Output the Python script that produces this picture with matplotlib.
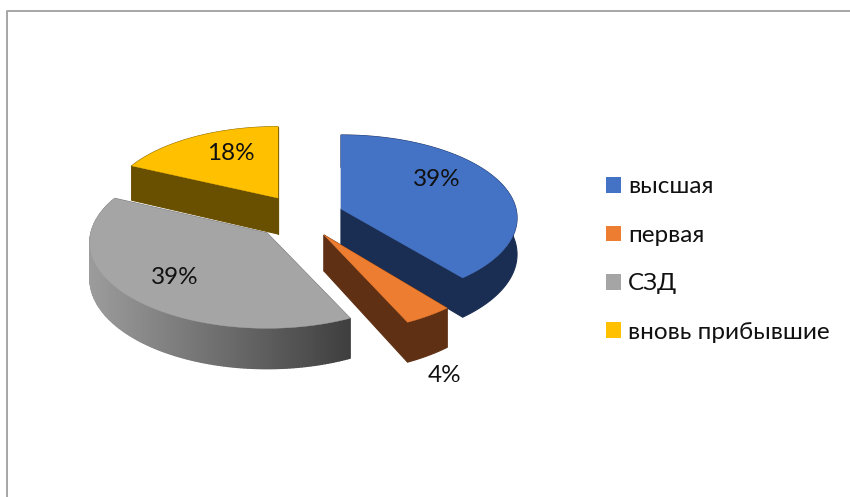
import numpy as np
import matplotlib as mpl
mpl.use("Agg")
import matplotlib.pyplot as plt
from matplotlib.patches import Polygon, Patch

plt.rcParams['font.family'] = ['Lato', 'Open Sans', 'DejaVu Sans']

categories = ['высшая', 'первая', 'СЗД', 'вновь прибывшие']
shares = [39, 4, 39, 18]
top_colors = ['#4472c4', '#ed7d31', '#a5a5a5', '#ffc000']
side_colors = ['#1a2d52', '#5f3013', None, '#694f00']

# apex of each exploded slice and where its label sits, in pixels
apexes = [(341, 209), (324, 235), (267, 233), (278, 198)]
radii = [175, 177, 176, 169]
radii_y = [82, 87, 85, 79]
label_pos = [(437, 180), (445, 376), (175, 278), (231, 154)]
PERSP = 0.108
DEPTH = 36.0


def project(apex, rx, ry, theta):
    # theta clockwise from the back of the pie, with a little perspective
    xx = np.sin(theta)
    yy = np.cos(theta)
    w = 1 + PERSP * yy
    return apex[0] + rx * xx / w, apex[1] - ry * yy / w, DEPTH / w


def gray_shade(x, x0, x1):
    f = np.clip((x - x0) / (x1 - x0), 0, 1)
    return tuple((0x9c + (0x3f - 0x9c) * f) / 255 for _ in range(3))


fig = plt.figure(figsize=(8.5, 4.97), dpi=100)
ax = fig.add_axes([0, 0, 1, 1])
ax.set_xlim(0, 850)
ax.set_ylim(497, 0)
ax.axis('off')

# chart frame
ax.plot([7.5, 7.5, 850], [497, 10.5, 10.5], color='#a6a6a6', lw=1.4)

fractions = np.array(shares) / sum(shares)
edges = np.concatenate([[0], np.cumsum(fractions)]) * 2 * np.pi

for i in [3, 2, 0, 1]:
    apex = apexes[i]
    t = np.linspace(edges[i], edges[i + 1], 160)
    xs, ys, ds = project(apex, radii[i], radii_y[i], t)
    base = side_colors[i] or '#6b6b6b'

    # radial faces first, outer wall after, top last
    for x, y, d in [(xs[0], ys[0], ds[0]), (xs[-1], ys[-1], ds[-1])]:
        ax.add_patch(Polygon([apex, (x, y), (x, y + d), (apex[0], apex[1] + DEPTH)],
                             closed=True, fc=base, ec=base, lw=0.8))
    if side_colors[i] is None:
        for k in range(len(t) - 1):
            c = gray_shade((xs[k] + xs[k + 1]) / 2, xs.min(), xs.max())
            quad = [(xs[k], ys[k]), (xs[k + 1], ys[k + 1]),
                    (xs[k + 1], ys[k + 1] + ds[k + 1]), (xs[k], ys[k] + ds[k])]
            ax.add_patch(Polygon(quad, closed=True, fc=c, ec=c, lw=1.0))
    else:
        wall = list(zip(xs, ys)) + list(zip(xs[::-1], (ys + ds)[::-1]))
        ax.add_patch(Polygon(wall, closed=True, fc=base, ec=base, lw=0.8))
    ax.add_patch(Polygon([apex] + list(zip(xs, ys)), closed=True,
                         fc=top_colors[i], ec=top_colors[i], lw=0.3))

for frac, pos in zip(fractions, label_pos):
    ax.text(pos[0], pos[1], f'{frac * 100:.0f}%', ha='center', va='center',
            fontsize=17.5, color='#111111')

handles = [Patch(fc=c, ec='none') for c in top_colors]
ax.legend(handles, categories, loc='upper left', bbox_to_anchor=(606 / 850, 1 - 176.5 / 497),
          frameon=False, fontsize=17.5, handlelength=0.62, handleheight=0.62,
          handletextpad=0.29, labelspacing=1.13, borderpad=0, borderaxespad=0,
          labelcolor='#111111')

fig.savefig('out.png', dpi=100)
